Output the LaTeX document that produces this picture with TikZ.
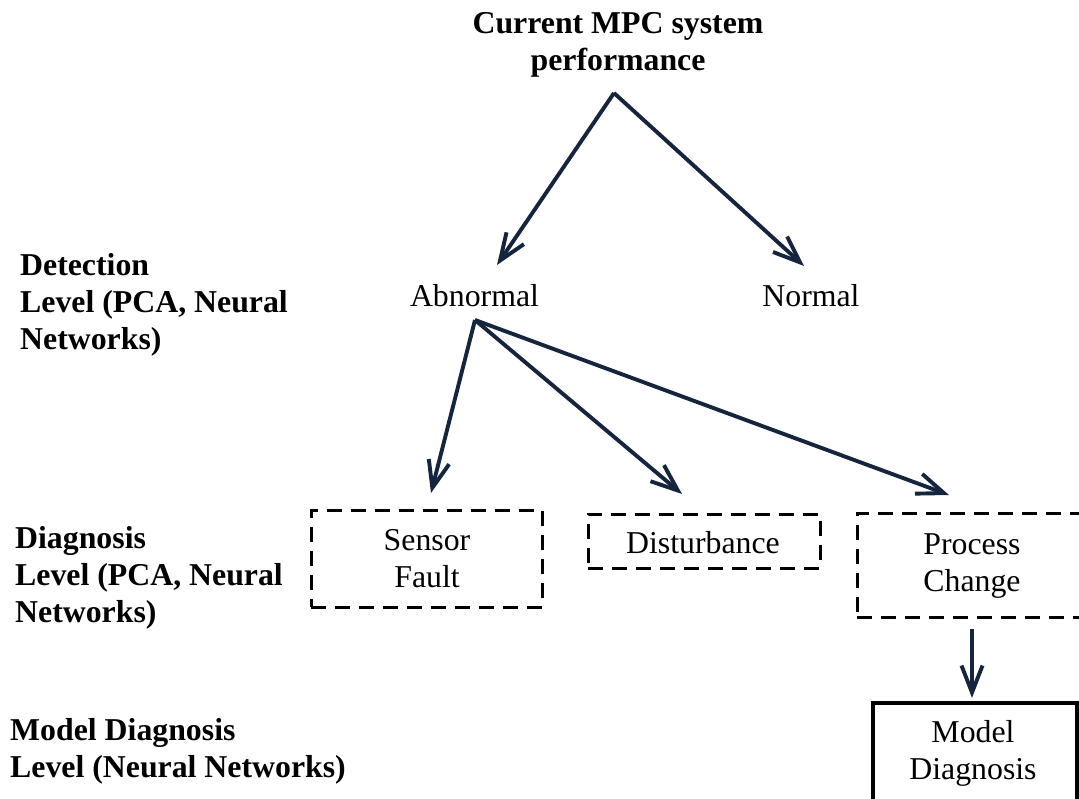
\documentclass[tikz,border=0pt]{standalone}
\usepackage{fontspec}
\setmainfont{Liberation Serif}
\usetikzlibrary{arrows.meta}
\definecolor{navy}{HTML}{15253E}

% multi-line text whose baseline is that of its first line
\newcommand{\linesc}[1]{\begin{tabular}[t]{@{}c@{}}#1\end{tabular}}
\newcommand{\linesl}[1]{\begin{tabular}[t]{@{}l@{}}#1\end{tabular}}

\tikzset{
  txt/.style={inner sep=0pt, anchor=base, font=\fontsize{31.8}{37}\selectfont},
  head/.style={txt, font=\fontsize{31.8}{37}\selectfont\bfseries},
  side/.style={head, anchor=base west},
  dashbox/.style={draw=black, line width=3pt, dash pattern=on 15pt off 9pt,
    inner sep=0pt},
  solidbox/.style={draw=black, line width=4.2pt, inner sep=0pt},
  link/.style={draw=navy, line width=3.9pt,
    -{Straight Barb[length=27pt,width=21pt]}},
}

\begin{document}
\begin{tikzpicture}[x=1pt,y=-1pt]
  \useasboundingbox (0,0) rectangle (1079,798);
  \clip (0,0) rectangle (1079,798);

  % level captions on the left
  \node[side] (detLbl) at (20,275)
    {\linesl{Detection\\Level (PCA, Neural\\Networks)}};
  \node[side] (diagLbl) at (15,548)
    {\linesl{Diagnosis\\Level (PCA, Neural\\Networks)}};
  \node[side] (modLbl) at (10,740)
    {\linesl{Model Diagnosis\\Level (Neural Networks)}};

  % root
  \node[head] (perf) at (618,33) {\linesc{Current MPC system\\performance}};
  \coordinate (perfOut) at (614,93);

  % detection outcomes
  \node[txt] (abn) at (474.5,306) {Abnormal};
  \node[txt] (norm) at (811,306) {Normal};
  \coordinate (abnIn) at (497,265);
  \coordinate (normIn) at (804,266);
  \coordinate (abnOut) at (475,320);

  % diagnosis classes
  \node[dashbox, minimum width=231pt, minimum height=97pt] (sens) at (426.5,558.5) {};
  \node[txt] (sensTxt) at (427,550) {\linesc{Sensor\\Fault}};
  \node[dashbox, minimum width=232pt, minimum height=54pt] (dist) at (704,541) {};
  \node[txt] (distTxt) at (703,553) {Disturbance};
  \node[dashbox, minimum width=230pt, minimum height=104pt] (proc) at (972,565) {};
  \node[txt] (procTxt) at (972,554) {\linesc{Process\\Change}};
  \coordinate (sensIn) at (431,493);
  \coordinate (distIn) at (682,494);
  \coordinate (procIn) at (949,495);

  % model diagnosis
  \node[solidbox, minimum width=204pt, minimum height=100pt] (model) at (975,753) {};
  \node[txt] (modelTxt) at (973,742) {\linesc{Model\\Diagnosis}};

  % connectors
  \draw[link] (perfOut) -- (abnIn);
  \draw[link] (perfOut) -- (normIn);
  \draw[link] (abnOut) -- (sensIn);
  \draw[link] (abnOut) -- (distIn);
  \draw[link] (abnOut) -- (procIn);
  \draw[link, shorten <=10pt, shorten >=3pt] (procTxt.south |- proc.south) -- (procTxt.south |- model.north);
\end{tikzpicture}
\end{document}
